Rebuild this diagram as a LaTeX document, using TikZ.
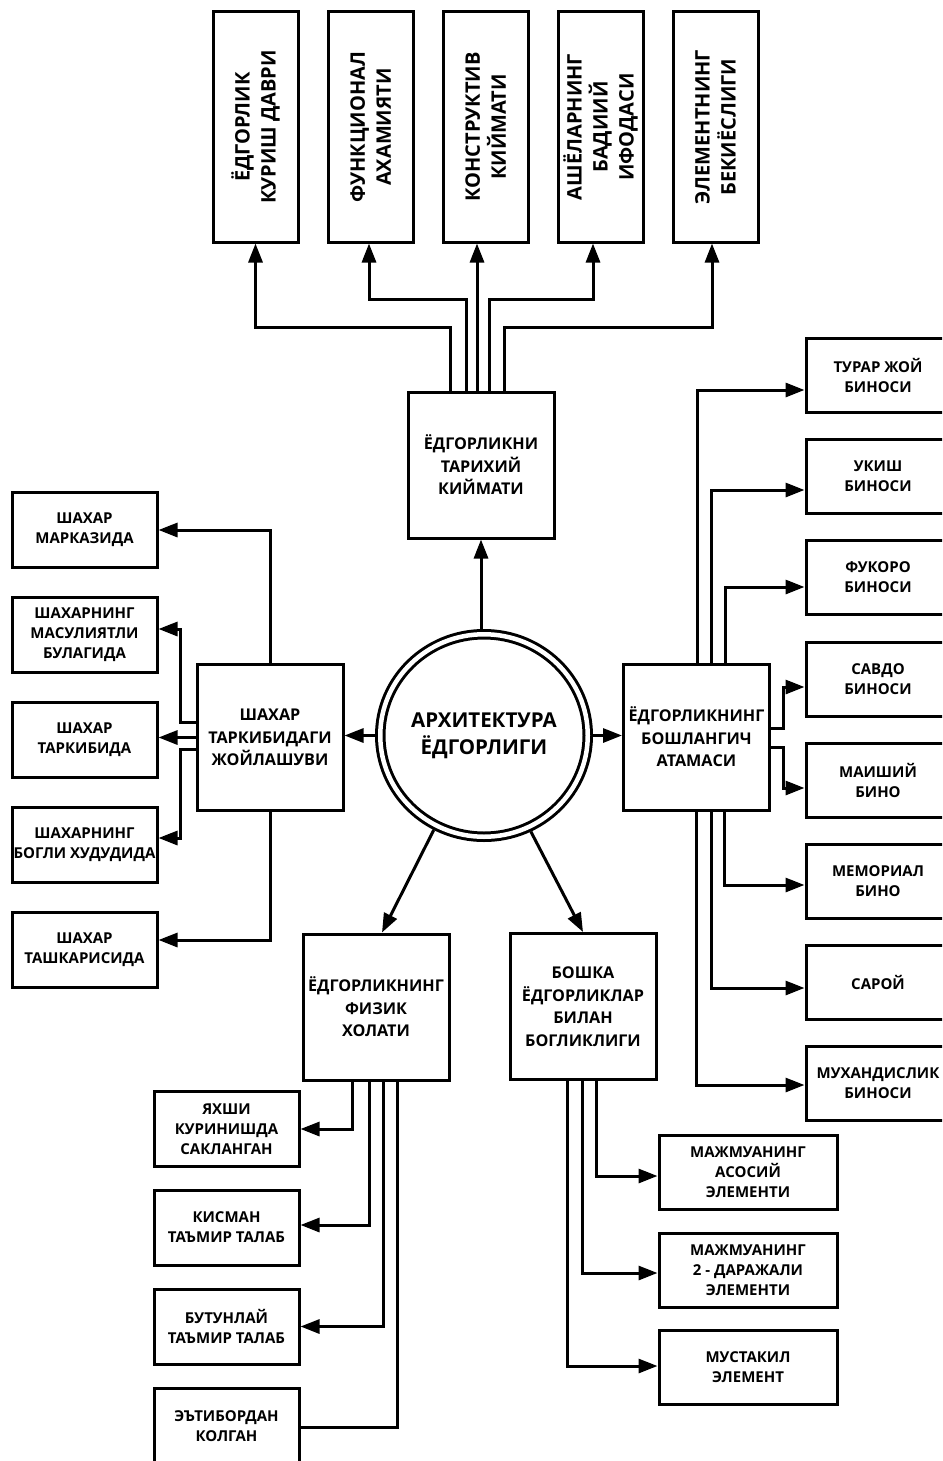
\documentclass[tikz,border=0pt]{standalone}
\usepackage{fontspec}
\setmainfont{Open Sans}
\usetikzlibrary{arrows.meta,shapes.geometric}
\newcommand\fsm{\fontsize{15}{20}\selectfont\bfseries}
\newcommand\fmd{\fontsize{16.2}{22.5}\selectfont\bfseries}
\newcommand\fbg{\fontsize{20.5}{27}\selectfont\bfseries}
\newcommand\ftp{\fontsize{20}{26}\selectfont\bfseries}
\begin{document}
\begin{tikzpicture}[x=1pt,y=-1pt,
  bx/.style={draw, line width=3pt, inner sep=0pt, align=center},
  sbox/.style={bx, font=\fsm, minimum width=145pt, minimum height=75pt},
  rbox/.style={bx, font=\fsm, minimum width=144pt, minimum height=74pt},
  mbox/.style={bx, font=\fmd, minimum width=146pt, minimum height=146pt},
  tbox/.style={bx, minimum width=85pt, minimum height=230pt},
  ttext/.style={rotate=90, align=center, font=\ftp, inner sep=0pt},
  ln/.style={line width=3pt},
  arr/.style={line width=3pt, -{Triangle[length=19pt,width=14pt]}}]
\useasboundingbox (0,0) rectangle (942,1461);
\clip (0,0) rectangle (942,1461);
% top boxes
\node[tbox] (t1) at (255.5,127) {};
\node[ttext] (t1x) at (t1) {ЁДГОРЛИК\\КУРИШ ДАВРИ};
\node[tbox] (t2) at (370.5,127) {};
\node[ttext] (t2x) at (t2) {ФУНКЦИОНАЛ\\АХАМИЯТИ};
\node[tbox] (t3) at (485.5,127) {};
\node[ttext] (t3x) at (t3) {КОНСТРУКТИВ\\КИЙМАТИ};
\node[tbox] (t4) at (600.5,127) {};
\node[ttext] (t4x) at (t4) {АШЁЛАРНИНГ\\БАДИИЙ\\ИФОДАСИ};
\node[tbox] (t5) at (715.5,127) {};
\node[ttext] (t5x) at (t5) {ЭЛЕМЕНТНИНГ\\БЕКИЁСЛИГИ};
% central
\node[mbox] (h) at (481,465) {ЁДГОРЛИКНИ\\ТАРИХИЙ\\КИЙМАТИ};
\node[ellipse, draw, line width=3pt, double, double distance=4.5pt, inner sep=0pt,
  minimum width=207.5pt, minimum height=202.5pt, outer sep=5.25pt, font=\fbg, align=center]
  (c) at (484,735.5) {АРХИТЕКТУРА\\ЁДГОРЛИГИ};
\node[mbox] (lm) at (270,737.5) {ШАХАР\\ТАРКИБИДАГИ\\ЖОЙЛАШУВИ};
\node[mbox] (rm) at (696.5,737) {ЁДГОРЛИКНИНГ\\БОШЛАНГИЧ\\АТАМАСИ};
\node[mbox] (bl) at (376,1007) {ЁДГОРЛИКНИНГ\\ФИЗИК\\ХОЛАТИ};
\node[mbox] (br) at (583,1006.5) {БОШКА\\ЁДГОРЛИКЛАР\\БИЛАН\\БОГЛИКЛИГИ};
% left boxes
\node[sbox] (A) at (84.5,530) {ШАХАР\\МАРКАЗИДА};
\node[sbox] (B) at (84.5,635) {ШАХАРНИНГ\\МАСУЛИЯТЛИ\\БУЛАГИДА};
\node[sbox] (C) at (84.5,739.5) {ШАХАР\\ТАРКИБИДА};
\node[sbox] (D) at (84.5,844.5) {ШАХАРНИНГ\\БОГЛИ ХУДУДИДА};
\node[sbox] (E) at (84.5,949.5) {ШАХАР\\ТАШКАРИСИДА};
% right boxes
\node[rbox] (R1) at (878,375.5) {ТУРАР ЖОЙ\\БИНОСИ};
\node[rbox] (R2) at (878,476.5) {УКИШ\\БИНОСИ};
\node[rbox] (R3) at (878,577.5) {ФУКОРО\\БИНОСИ};
\node[rbox] (R4) at (878,679.5) {САВДО\\БИНОСИ};
\node[rbox] (R5) at (878,780.5) {МАИШИЙ\\БИНО};
\node[rbox] (R6) at (878,881) {МЕМОРИАЛ\\БИНО};
\node[rbox] (R7) at (878,982.5) {САРОЙ};
\node[rbox] (R8) at (878,1083.5) {МУХАНДИСЛИК\\БИНОСИ};
% bottom-left boxes
\node[sbox] (L1) at (226.5,1129) {ЯХШИ\\КУРИНИШДА\\САКЛАНГАН};
\node[sbox] (L2) at (226.5,1227.5) {КИСМАН\\ТАЪМИР ТАЛАБ};
\node[sbox] (L3) at (226.5,1326.5) {БУТУНЛАЙ\\ТАЪМИР ТАЛАБ};
\node[sbox] (L4) at (226.5,1426) {ЭЪТИБОРДАН\\КОЛГАН};
% bottom-right boxes
\node[sbox, minimum width=178pt, minimum height=74pt] (M1) at (748,1172) {МАЖМУАНИНГ\\АСОСИЙ\\ЭЛЕМЕНТИ};
\node[sbox, minimum width=178pt, minimum height=74pt] (M2) at (748,1270) {МАЖМУАНИНГ\\2 - ДАРАЖАЛИ\\ЭЛЕМЕНТИ};
\node[sbox, minimum width=178pt, minimum height=74pt] (M3) at (748,1367.5) {МУСТАКИЛ\\ЭЛЕМЕНТ};
% top connectors
\draw[arr] ([xshift=-31pt]h.north) -- ++(0,-63) -| (t1.south);
\draw[arr] ([xshift=-15pt]h.north) -- ++(0,-91) -| ([xshift=-1.5pt]t2.south);
\draw[arr] ([xshift=-4pt]h.north) -- ([xshift=-8.5pt]t3.south);
\draw[arr] ([xshift=8pt]h.north) -- ++(0,-91) -| ([xshift=-7.5pt]t4.south);
\draw[arr] ([xshift=23pt]h.north) -- ++(0,-63) -| ([xshift=-3.5pt]t5.south);
% central connectors
\draw[arr] (c.north -| h.south) -- (h.south);
\draw[arr] (c.west) -- (c.west -| lm.east);
\draw[arr] (c.east) -- (c.east -| rm.west);
\draw[arr] (c.242.6) -- ([xshift=6pt]bl.north);
\draw[arr] (c.296.2) -- (br.north);
% left connectors
\draw[arr] (lm.north) |- (A.east);
\draw[arr] ([yshift=15.5pt]lm.west) -- ++(-15,0) |- ([yshift=6pt]B.east);
\draw[arr] (lm.west) -- (lm.west -| C.east);
\draw[arr] ([yshift=-11.5pt]lm.west) -- ++(-15,0) |- ([yshift=6.5pt]D.east);
\draw[arr] (lm.south) |- ([yshift=9.5pt]E.east);
% right connectors
\draw[arr] ([xshift=0.5pt]rm.north) |- ([yshift=-14.5pt]R1.west);
\draw[arr] ([xshift=14.5pt]rm.north) |- ([yshift=-13.5pt]R2.west);
\draw[arr] ([xshift=28.5pt]rm.north) |- ([yshift=-9.5pt]R3.west);
\draw[arr] ([yshift=9pt]rm.east) -- ++(12,0) |- ([yshift=-7.5pt]R4.west);
\draw[arr] ([yshift=-10pt]rm.east) -- ++(12,0) |- ([yshift=-7.5pt]R5.west);
\draw[arr] ([xshift=27.5pt]rm.south) |- ([yshift=-4pt]R6.west);
\draw[arr] ([xshift=14.5pt]rm.south) |- ([yshift=-5.5pt]R7.west);
\draw[arr] ([xshift=-0.5pt]rm.south) |- ([yshift=-1.5pt]R8.west);
% bottom-left connectors
\draw[arr] ([xshift=-24pt]bl.south) |- (L1.east);
\draw[arr] ([xshift=-7pt]bl.south) |- ([yshift=2.5pt]L2.east);
\draw[arr] ([xshift=7pt]bl.south) |- (L3.east);
\draw[ln] ([xshift=21pt]bl.south) |- ([yshift=-1.5pt]L4.east);
% bottom-right connectors
\draw[arr] ([xshift=13pt]br.south) |- ([yshift=-4pt]M1.west);
\draw[arr] ([xshift=-1pt]br.south) |- ([yshift=-3pt]M2.west);
\draw[arr] ([xshift=-16pt]br.south) |- ([yshift=1.5pt]M3.west);
\end{tikzpicture}
\end{document}
